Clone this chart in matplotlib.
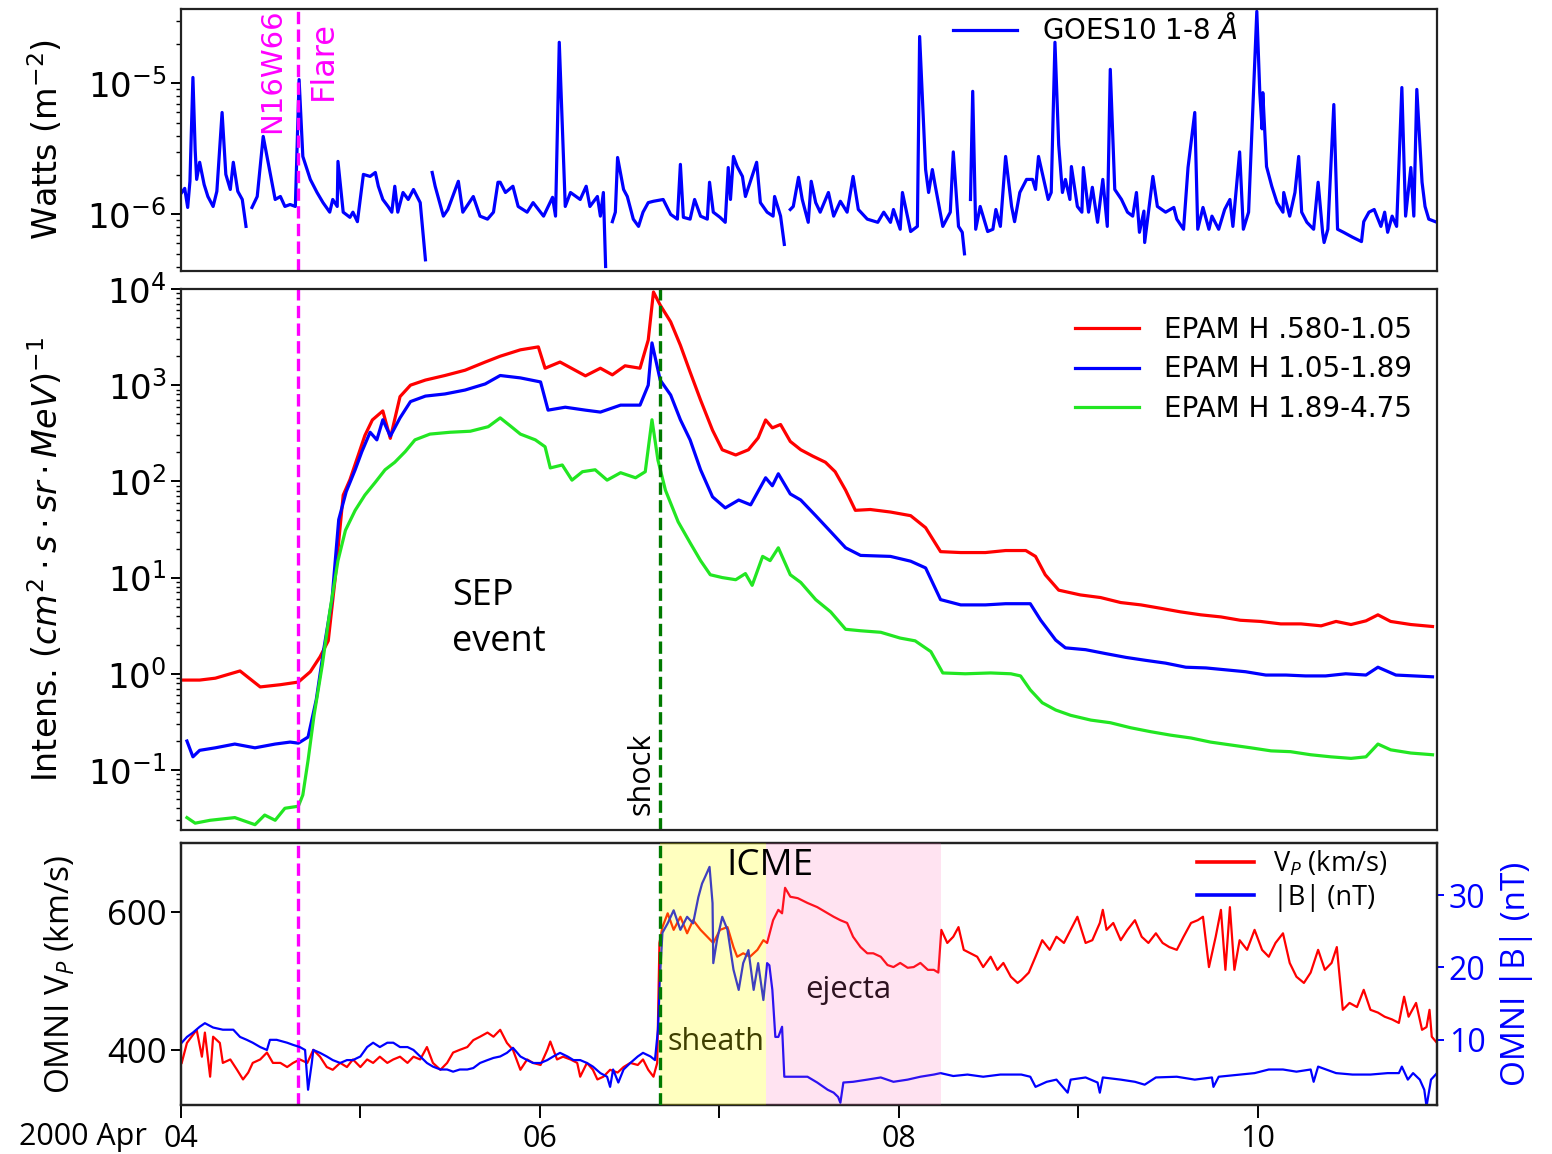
import numpy as np
import matplotlib
matplotlib.use("Agg")
import matplotlib.pyplot as plt
import matplotlib.dates as mdates
from matplotlib.ticker import NullFormatter
from matplotlib.font_manager import FontProperties

plt.rcParams["font.family"] = ["DejaVu Sans"]
plt.rcParams["mathtext.fontset"] = "dejavusans"
plt.rcParams["mathtext.rm"] = "Open Sans"
plt.rcParams["mathtext.it"] = "Open Sans:italic"
plt.rcParams["mathtext.bf"] = "Open Sans:bold"

# ---- event times (hours after 2000-04-04 00:00 UT) ----
t_start = np.datetime64("2000-04-04T00:00")
flare_h = 15.7
shock_h = 64.1
sheath_end_h = 78.2
ejecta_end_h = 101.6

# ---- GOES-10 1-8 A X-ray flux, units of 1e-6 W m^-2 (nan = data gap) ----
goes_hours = [
    0.1, 0.5, 0.9, 1.2, 1.6, 1.9, 2.1, 2.5, 3.1, 3.6, 4.3, 4.8, 5.5, 6.0, 6.6, 7.0, 7.6, 8.2, 8.7, 9.1,
    9.5, 10.2, 11.0, 11.6, 12.6, 13.3, 13.9, 14.6, 15.3, 15.8, 16.3, 17.3, 18.2, 19.0, 19.9, 20.3, 20.9, 21.0,
    21.7, 22.6, 23.0, 23.6, 24.4, 25.3, 26.0, 26.4, 27.0, 27.7, 28.2, 28.6, 29.0, 29.7, 30.4, 31.1, 32.0, 32.7,
    33.2, 33.6, 34.0, 35.1, 35.7, 37.1, 37.7, 39.1, 40.0, 41.0, 41.8, 42.4, 42.7, 43.4, 44.4, 45.1, 46.3, 47.1,
    48.5, 49.7, 50.1, 50.6, 51.4, 52.1, 53.4, 54.2, 54.7, 55.7, 56.1, 56.5, 56.8, 57.2, 57.7, 58.1, 58.4, 59.2,
    59.7, 60.5, 61.2, 61.8, 62.5, 63.2, 64.5, 65.5, 66.4, 66.8, 67.2, 68.1, 68.7, 69.5, 70.4, 70.7, 71.2, 72.1,
    72.8, 73.2, 73.5, 73.9, 74.4, 75.1, 75.5, 77.0, 77.5, 78.4, 79.2, 79.4, 80.2, 80.7, 81.1, 81.5, 81.9, 82.6,
    83.1, 83.9, 84.3, 84.9, 85.5, 86.6, 87.3, 88.2, 89.1, 89.9, 90.6, 91.8, 93.2, 94.0, 94.9, 95.3, 96.2, 96.5,
    97.6, 98.5, 98.8, 99.6, 100.0, 100.5, 100.9, 101.9, 102.9, 103.3, 104.0, 104.5, 104.8, 105.2, 105.6, 105.9,
    106.3, 106.9, 107.9, 108.6, 109.0, 109.6, 110.3, 111.1, 111.5, 112.2, 113.1, 113.9, 114.3, 114.7, 116.0,
    116.4, 116.9, 117.4, 117.9, 118.3, 118.9, 119.1, 119.9, 120.5, 120.7, 121.4, 121.9, 122.6, 123.3, 123.9,
    124.3, 124.9, 125.8, 126.6, 127.3, 127.8, 128.2, 128.8, 128.9, 130.0, 130.6, 131.7, 132.8, 133.2, 134.1,
    134.7, 135.6, 136.0, 136.7, 137.5, 137.9, 138.8, 139.6, 140.3, 140.7, 141.6, 142.1, 142.8, 143.9, 144.3,
    144.6, 144.7, 145.2, 145.9, 146.6, 147.4, 147.5, 148.3, 149.0, 149.5, 149.9, 150.6, 151.5, 152.1, 152.7,
    152.9, 153.4, 154.2, 154.7, 155.5, 156.7, 157.9, 158.2, 158.9, 159.6, 160.5, 161.0, 161.4, 162.0, 162.6,
    163.3, 163.8, 164.5, 164.9, 165.3, 166.0, 166.4, 166.9, 168.0,
]
goes_flux = [
    1.47, 1.58, 1.13, 1.79, 11.1, 3.1, 1.85, 2.5, 1.69, 1.37, 1.15, 1.5, 6.0, 2.02, 1.55, 2.5, 1.5, 1.3, 0.81, np.nan,
    1.13, 1.37, 3.94, 2.6, 1.3, 1.37, 1.15, 1.19, 1.15, 10.7, 2.77, 1.85, 1.47, 1.23, 1.04, 1.3, 1.15, 2.54,
    1.04, 0.95, 1.04, 0.88, 2.02, 1.95, 2.09, 1.64, 1.3, 1.15, 1.04, 1.64, 1.04, 1.47, 1.3, 1.55, 1.23, 0.45,
    np.nan, 2.09, 1.64, 0.97, 1.09, 1.79, 1.04, 1.37, 0.97, 0.92, 1.04, 1.76, 1.76, 1.47, 1.64, 1.15, 1.04, 1.23,
    0.97, 1.35, 0.97, 20.6, 1.15, 1.47, 1.3, 1.64, 1.15, 1.37, 0.97, 1.47, 0.40, np.nan, 0.88, 1.04, 2.72, 1.55,
    1.37, 0.92, 0.81, 1.04, 1.23, 1.26, 1.3, 1.0, 0.92, 2.41, 0.95, 0.92, 1.3, 0.97, 0.92, 1.76, 1.04, 0.95,
    0.87, 2.28, 1.3, 2.77, 2.32, 1.95, 1.37, 2.5, 1.23, 1.04, 0.97, 1.37, 0.97, 0.59, np.nan, 1.09, 1.15, 1.92,
    1.3, 0.87, 1.79, 1.23, 1.04, 1.47, 0.97, 1.26, 1.04, 1.95, 1.09, 0.92, 0.87, 1.04, 0.87, 1.09, 0.77, 1.47,
    0.74, 0.81, 22.8, 2.2, 1.47, 2.2, 1.64, 0.81, 1.04, 3.0, 0.81, 0.73, 0.50, np.nan, 1.3, 8.7,
    0.77, 1.15, 0.74, 0.77, 1.09, 0.81, 2.77, 1.15, 0.88, 1.47, 1.85, 1.85, 1.55, 2.77, 1.3,
    1.47, 20.6, 3.4, 1.47, 1.85, 1.3, 2.32, 1.15, 1.04, 2.28, 1.04, 1.61, 0.87, 1.85, 0.81,
    12.8, 1.55, 1.3, 1.04, 0.97, 1.47, 0.73, 1.06, 0.61, 1.95, 1.15, 1.04, 1.13, 0.92, 0.77,
    2.28, 6.0, 0.77, 1.13, 0.77, 0.97, 0.77, 1.09, 1.3, 0.81, 3.0, 0.77, 1.04, 35.5, 8.5,
    4.5, 8.5, 2.32, 1.64, 1.23, 1.04, 1.47, 0.97, 1.47, 2.77, 1.04, 0.87, 0.77, 1.76, 0.73,
    0.61, 0.77, 6.9, 0.77, 0.73, 0.67, 0.62, 0.88, 1.04, 1.09, 0.81, 1.04, 0.73, 0.97, 0.81,
    9.3, 0.97, 2.28, 0.97, 9.0, 1.76, 1.15, 0.92, 0.87,
]

# ---- ACE/EPAM proton intensities, (cm^2 s sr MeV)^-1 ----
epam1_hours = [
    0.0, 2.5, 4.6, 7.9, 10.6, 13.3, 15.7, 17.3, 18.6, 19.7, 20.6, 21.7, 22.6, 23.7, 24.6, 25.6, 27.0, 28.0,
    29.3, 30.7, 32.7, 35.3, 38.0, 40.7, 42.7, 45.4, 47.8, 48.7, 50.7, 54.1, 56.1, 57.7, 59.4, 61.4, 62.5, 63.2,
    64.1, 65.5, 66.8, 68.1, 69.5, 71.1, 72.4, 74.2, 75.9, 77.2, 78.2, 79.1, 80.2, 81.5, 82.9, 84.5, 86.2, 87.5,
    88.9, 90.2, 92.2, 94.9, 97.6, 99.6, 101.6, 104.3, 107.6, 110.3, 113.0, 114.3, 115.6, 117.4, 120.3, 123.0,
    125.7, 128.4, 131.0, 133.7, 136.4, 139.1, 141.7, 144.4, 147.1, 149.8, 152.5, 154.5, 156.5, 158.5, 160.1,
    161.8, 164.5, 167.4,
]
epam1_flux = [
    0.86, 0.86, 0.90, 1.07, 0.73, 0.77, 0.82, 1.05, 1.5, 2.2, 9.4, 72, 104, 186, 300, 435, 540, 280,
    760, 1000, 1130, 1260, 1430, 1740, 2000, 2330, 2500, 1500, 1740, 1250, 1500, 1280, 1590, 1500, 2950, 9300,
    6800, 4550, 2600, 1370, 700, 340, 213, 188, 213, 283, 435, 360, 390, 260, 213, 183, 158, 126,
    81, 50, 51, 48, 44, 33, 18.6, 18.2, 18.2, 19.1, 19.1, 16.6, 10.7, 7.4, 6.6, 6.2,
    5.5, 5.2, 4.8, 4.4, 4.1, 3.9, 3.6, 3.5, 3.3, 3.3, 3.15, 3.5, 3.25, 3.55, 4.1,
    3.5, 3.25, 3.1,
]
epam2_hours = [
    0.8, 1.6, 2.5, 4.6, 7.2, 9.9, 12.6, 14.6, 15.7, 17.0, 18.1, 19.1, 20.2, 21.1, 22.1, 23.3, 24.2, 25.3,
    26.2, 27.0, 28.0, 29.3, 30.7, 32.7, 35.3, 38.0, 40.7, 42.7, 45.4, 48.1, 49.1, 51.4, 54.1, 56.1, 58.8, 61.4,
    62.5, 63.0, 64.1, 65.5, 66.8, 68.1, 69.5, 71.1, 72.8, 74.6, 76.2, 78.2, 79.1, 79.9, 81.5, 82.9, 84.9, 86.9,
    88.9, 90.9, 94.9, 97.6, 99.6, 101.6, 104.3, 107.6, 110.3, 113.6, 115.0, 117.0, 118.3, 121.0, 123.7, 126.4,
    129.0, 131.7, 134.4, 137.1, 139.7, 142.4, 145.1, 147.8, 150.4, 153.1, 155.8, 158.5, 160.1, 162.5, 167.4,
]
epam2_flux = [
    0.20, 0.137, 0.16, 0.17, 0.186, 0.17, 0.186, 0.195, 0.19, 0.22, 0.54, 1.8, 5.9, 40, 78, 132, 204, 324,
    270, 437, 295, 457, 675, 770, 810, 890, 1030, 1260, 1190, 1080, 550, 590, 550, 525, 620, 620,
    1000, 2750, 1130, 790, 437, 270, 132, 69, 53, 64, 57, 109, 90, 120, 74, 64, 44, 30,
    20.4, 17, 16.6, 14.8, 12.6, 5.9, 5.2, 5.2, 5.35, 5.35, 3.6, 2.24, 1.86, 1.78, 1.62, 1.48,
    1.38, 1.29, 1.17, 1.15, 1.10, 1.05, 0.97, 0.97, 0.95, 0.95, 1.0, 0.97, 1.17, 0.97, 0.93,
]
epam3_hours = [
    0.8, 1.9, 3.9, 7.2, 9.9, 11.2, 12.6, 13.9, 15.7, 16.3, 17.0, 17.8, 18.9, 19.9, 21.0, 22.0, 23.3, 24.6,
    26.0, 27.3, 28.6, 30.0, 31.3, 33.3, 36.0, 38.7, 41.1, 42.7, 44.0, 45.4, 47.4, 48.7, 49.4, 51.0, 52.3, 53.7,
    55.4, 57.0, 58.8, 60.8, 62.1, 63.0, 63.8, 64.8, 66.5, 68.1, 69.5, 70.8, 72.4, 74.2, 75.5, 76.4, 77.8, 78.8,
    79.9, 81.5, 82.9, 84.9, 86.9, 88.9, 90.9, 93.6, 96.2, 98.2, 100.3, 101.9, 104.9, 108.3, 111.0, 112.3,
    113.6, 115.2, 117.0, 119.0, 121.7, 124.3, 127.0, 129.7, 132.4, 135.1, 137.7, 140.4, 143.1, 145.8, 148.4,
    151.1, 153.8, 156.5, 158.5, 160.1, 161.8, 164.5, 167.4,
]
epam3_flux = [
    0.032, 0.028, 0.030, 0.032, 0.027, 0.034, 0.030, 0.040, 0.042, 0.055, 0.126, 0.37, 1.23, 4.4, 15, 31, 50, 72,
    98, 132, 158, 204, 270, 310, 324, 332, 370, 457, 380, 310, 270, 229, 138, 148, 103, 126,
    132, 103, 123, 109, 126, 437, 166, 81, 38, 23, 15, 10.7, 10, 9.5, 11, 8.3, 16.6, 15,
    20.4, 10.7, 8.9, 5.9, 4.4, 2.9, 2.8, 2.7, 2.35, 2.2, 1.7, 1.02, 1.0, 1.02, 1.0, 0.95,
    0.68, 0.50, 0.42, 0.37, 0.33, 0.31, 0.275, 0.25, 0.23, 0.215, 0.195, 0.182, 0.17, 0.158, 0.155,
    0.144, 0.137, 0.132, 0.137, 0.186, 0.162, 0.15, 0.144,
]
epam_labels = ["EPAM H .580-1.05", "EPAM H 1.05-1.89", "EPAM H 1.89-4.75"]

# ---- OMNI solar wind speed (km/s) ----
vp_hours = [
    0.1, 0.8, 2.1, 2.8, 3.2, 3.9, 4.3, 5.2, 5.6, 6.6, 7.5, 8.3, 9.0, 9.6, 10.6, 11.5, 12.3, 13.3, 14.2, 15.0,
    15.9, 16.9, 17.7, 18.6, 19.5, 20.3, 21.3, 22.2, 23.0, 24.0, 24.9, 25.7, 26.6, 27.6, 28.4, 29.3, 30.3, 31.1,
    32.0, 32.9, 33.7, 34.7, 35.6, 36.4, 37.3, 38.3, 39.1, 40.0, 41.0, 41.8, 42.7, 43.6, 44.4, 45.4, 46.3, 47.1,
    48.1, 49.0, 49.4, 50.3, 51.1, 52.1, 53.0, 53.4, 54.3, 55.1, 55.7, 56.5, 57.4, 58.4, 59.2, 60.1, 61.1, 61.8,
    62.5, 63.2, 63.7, 64.0, 64.4, 65.1, 65.9, 66.8, 67.7, 68.5, 69.5, 70.4, 71.2, 72.1, 73.1, 73.9, 74.4, 75.2,
    76.1, 77.1, 77.9, 78.4, 79.2, 79.9, 80.4, 80.8, 81.5, 82.5, 83.8, 85.1, 86.5, 87.3, 88.2, 89.1, 89.9, 90.9,
    91.8, 92.6, 93.6, 94.5, 95.3, 96.2, 97.2, 98.0, 98.9, 99.9, 100.7, 101.3, 101.7, 102.5, 103.3, 104.0, 104.7,
    105.6, 106.5, 107.3, 108.3, 109.2, 110.0, 111.0, 111.9, 112.4, 113.4, 114.3, 115.2, 116.2, 117.1, 118.1,
    119.0, 119.9, 121.0, 121.9, 122.9, 123.3, 123.8, 124.7, 125.7, 126.6, 127.6, 128.5, 129.4, 130.4, 131.3,
    132.2, 133.2, 134.1, 135.1, 136.0, 136.7, 137.5, 138.4, 139.1, 139.7, 140.3, 140.9, 141.6, 142.6, 143.6,
    144.6, 145.5, 146.4, 147.4, 148.3, 149.2, 150.2, 151.1, 152.1, 153.0, 153.9, 154.6, 155.4, 156.3, 157.3,
    158.2, 159.1, 160.1, 161.0, 162.0, 162.9, 163.6, 164.2, 165.2, 166.0, 166.6, 167.0, 167.3, 168.0,
]
vp_speed = [
    381, 410, 429, 390, 425, 361, 419, 410, 381, 386, 371, 357, 367, 381, 386, 396, 381, 381, 375, 381,
    386, 381, 400, 390, 375, 371, 381, 375, 386, 375, 386, 381, 390, 381, 386, 390, 381, 390,
    386, 404, 381, 371, 381, 396, 400, 404, 414, 419, 425, 419, 429, 410, 400, 371, 386, 381,
    378, 400, 412, 386, 390, 386, 381, 361, 381, 371, 357, 361, 371, 367, 375, 381, 378, 386,
    371, 361, 381, 555, 578, 598, 574, 593, 569, 588, 574, 564, 555, 574, 578, 549, 535, 540,
    535, 545, 559, 555, 588, 603, 598, 635, 622, 620, 613, 607, 598, 593, 588, 584, 564, 549,
    540, 540, 535, 523, 520, 526, 519, 520, 526, 516, 516, 512, 574, 555, 564, 578, 545,
    540, 535, 520, 535, 516, 526, 506, 497, 501, 512, 535, 559, 545, 564, 555,
    574, 593, 555, 559, 584, 603, 574, 584, 559, 574, 588, 564, 555, 569, 555,
    549, 545, 564, 584, 588, 593, 520, 564, 603, 516, 607, 516, 559, 545, 574,
    545, 535, 555, 569, 526, 506, 497, 512, 545, 516, 526, 549, 458, 468, 462,
    487, 458, 454, 448, 444, 439, 477, 448, 468, 429, 433, 458, 419, 410,
]

# ---- OMNI magnetic field magnitude (nT) ----
b_hours = [
    0.1, 0.8, 1.6, 2.5, 3.2, 4.3, 5.6, 7.0, 7.9, 8.8, 9.6, 10.6, 11.5, 11.9, 12.8, 14.2, 15.0, 15.9, 16.6, 17.0,
    17.5, 17.7, 18.6, 19.5, 20.3, 21.3, 22.2, 23.0, 24.0, 24.9, 25.7, 26.6, 27.6, 28.4, 29.3, 30.3, 31.1, 32.0,
    32.9, 33.7, 34.7, 35.6, 36.4, 37.3, 38.3, 39.1, 40.0, 41.0, 41.8, 42.7, 43.6, 44.4, 45.4, 46.3, 47.1, 48.1,
    49.0, 49.8, 50.7, 51.7, 52.5, 53.4, 54.3, 55.1, 56.1, 57.0, 57.4, 57.8, 58.5, 59.2, 60.1, 61.1, 61.8, 62.8,
    63.4, 63.8, 64.1, 64.4, 65.1, 65.9, 66.8, 67.7, 68.5, 69.2, 69.7, 70.1, 70.7, 71.1, 71.2, 71.7, 72.4, 73.1,
    73.9, 74.6, 75.2, 75.9, 76.6, 77.2, 77.9, 78.4, 78.7, 79.1, 79.5, 79.9, 80.4, 80.7, 81.9, 83.8, 85.1, 86.5,
    87.3, 87.9, 88.2, 88.6, 89.9, 91.8, 93.6, 95.3, 97.2, 98.9, 100.7, 101.6, 103.3, 105.2, 107.3, 109.6, 112.4,
    113.6, 114.3, 115.8, 117.1, 118.6, 119.0, 121.0, 122.6, 122.9, 123.3, 125.7, 127.6, 128.9, 130.4, 133.2,
    135.6, 137.9, 138.1, 138.8, 141.6, 143.6, 145.5, 147.4, 149.2, 151.1, 151.5, 152.1, 154.5, 156.7, 159.1,
    161.4, 162.9, 163.3, 164.1, 164.8, 165.7, 166.3, 166.6, 167.2, 168.0,
]
b_mag = [
    9.6, 10.4, 11.0, 11.8, 12.3, 11.7, 11.4, 11.4, 10.4, 10.0, 9.6, 9.0, 8.6, 10.0, 10.0, 9.6, 9.3, 9.0, 8.6, 3.1,
    6.8, 8.6, 8.2, 7.7, 7.2, 6.8, 7.2, 7.2, 7.7, 9.0, 9.6, 9.0, 9.6, 9.6, 9.0, 9.0, 8.6, 7.7,
    6.8, 6.3, 5.9, 5.9, 5.6, 5.9, 5.9, 6.1, 6.8, 7.2, 7.5, 7.7, 8.2, 8.9, 7.7, 7.2, 6.8, 6.8,
    7.2, 7.7, 8.2, 7.7, 7.2, 7.2, 6.8, 6.3, 5.4, 4.9, 3.5, 5.9, 4.1, 5.9, 6.8, 7.7, 8.2, 7.7,
    7.2, 11.4, 19.2, 24.8, 26.1, 27.9, 25.2, 27.0, 26.1, 29.7, 31.6, 32.5, 33.9, 28.9, 20.6, 23.8, 27.0, 25.2,
    19.7, 16.9, 20.6, 22.4, 16.9, 20.6, 15.5, 20.6, 20.3, 16.9, 10.4, 10.4, 11.8, 4.9, 4.9, 4.9, 4.1, 3.1,
    2.7, 2.1, 1.3, 4.1, 4.2, 4.5, 4.8, 4.2, 4.5, 4.9, 5.2, 5.4, 5.0, 5.2, 4.9, 5.2, 5.2,
    4.9, 3.5, 4.2, 4.5, 2.7, 4.5, 4.8, 4.1, 2.7, 4.8, 4.5, 4.2, 3.8, 4.8, 4.9,
    4.5, 4.8, 3.5, 4.9, 5.2, 5.4, 5.9, 5.9, 5.6, 5.9, 4.2, 6.3, 5.4, 5.2, 5.2,
    5.4, 5.4, 6.3, 4.5, 5.4, 4.5, 3.1, 0.8, 4.5, 5.4,
]


def to_time(hours):
    return t_start + (np.asarray(hours, dtype=float) * 3600).astype("timedelta64[s]")


def at(h):
    return t_start + np.timedelta64(int(round(h * 3600)), "s")


open_sans = dict(family="Open Sans", math_fontfamily="custom")

fig = plt.figure(figsize=(15.52, 11.54), dpi=100)
fig.patch.set_facecolor("white")
ax_x = fig.add_axes([0.1166, 0.7652, 0.8093, 0.2270])
ax_p = fig.add_axes([0.1166, 0.2808, 0.8093, 0.4688], sharex=ax_x)
ax_v = fig.add_axes([0.1166, 0.0425, 0.8093, 0.2270], sharex=ax_x)
ax_b = ax_v.twinx()

for ax in (ax_x, ax_p, ax_v, ax_b):
    for sp in ax.spines.values():
        sp.set_linewidth(1.6)
        sp.set_color("#222222")
    ax.tick_params(which="major", length=7, width=1.4, labelsize=24.5)
    ax.tick_params(which="minor", length=3.5, width=1.0)

# ---- X-ray panel ----
ax_x.plot(to_time(goes_hours), np.array(goes_flux) * 1e-6, color="#0000ff", lw=2.3,
          label="GOES10 1-8 $\\AA$")
ax_x.set_yscale("log")
ax_x.set_ylim(3.7e-7, 3.7e-5)
ax_x.yaxis.set_minor_formatter(NullFormatter())
ax_x.axvline(at(flare_h), color="#ff00ff", lw=2.4, ls="--")
ax_x.set_ylabel("Watts (m$^{-2}$)", fontsize=24)
ax_x.yaxis.set_label_coords(-0.092, 0.5)
ax_x.legend(loc="upper right", bbox_to_anchor=(0.861, 1.075), frameon=False, fontsize=20,
            handlelength=2.3, handletextpad=0.9)
ax_x.text(0.0725, 0.527, "N16W66", transform=ax_x.transAxes, rotation=90, color="#ff00ff",
          fontsize=21, ha="center", va="bottom")
ax_x.text(0.113, 0.653, "Flare", transform=ax_x.transAxes, rotation=90, color="#ff00ff",
          fontsize=23, ha="center", va="bottom")

# ---- particle panel ----
ax_p.plot(to_time(epam1_hours), epam1_flux, color="#ff0000", lw=2.3, label=epam_labels[0])
ax_p.plot(to_time(epam2_hours), epam2_flux, color="#0000ff", lw=2.3, label=epam_labels[1])
ax_p.plot(to_time(epam3_hours), epam3_flux, color="#22e622", lw=2.3, label=epam_labels[2])
ax_p.set_yscale("log")
ax_p.set_ylim(0.0238, 1.0e4)
ax_p.yaxis.set_minor_formatter(NullFormatter())
ax_p.axvline(at(flare_h), color="#ff00ff", lw=2.4, ls="--")
ax_p.axvline(at(shock_h), color="#007a00", lw=2.4, ls="--")
ax_p.set_ylabel(r"Intens. $(cm^2 \cdot s \cdot sr \cdot MeV)^{-1}$", fontsize=24)
ax_p.yaxis.set_label_coords(-0.092, 0.5)
ax_p.legend(loc="upper right", bbox_to_anchor=(1.0, 0.997), frameon=False, fontsize=20,
            handlelength=2.3, handletextpad=0.9, labelspacing=0.42)
ax_p.text(0.216, 0.39, "SEP\nevent", transform=ax_p.transAxes, fontsize=26, ha="left",
          va="center", linespacing=1.38, **open_sans)
ax_p.text(0.367, 0.028, "shock", transform=ax_p.transAxes, rotation=90, fontsize=22,
          ha="center", va="bottom", **open_sans)

# ---- solar wind panel ----
l_v, = ax_v.plot(to_time(vp_hours), vp_speed, color="#ff0000", lw=1.6, label="V$_P$ (km/s)")
ax_v.set_ylim(320, 700)
ax_v.set_yticks([400, 600])
ax_v.axvline(at(flare_h), color="#ff00ff", lw=2.4, ls="--")
ax_v.set_ylabel("OMNI V$_P$ (km/s)", fontsize=24, **open_sans)
ax_v.yaxis.set_label_coords(-0.082, 0.5)
ax_v.text(0.387, 0.24, "sheath", transform=ax_v.transAxes, fontsize=22, ha="left", va="center",
          **open_sans)
ax_v.text(0.497, 0.439, "ejecta", transform=ax_v.transAxes, fontsize=22.5, ha="left", va="center",
          **open_sans)

l_b, = ax_b.plot(to_time(b_hours), b_mag, color="#0000ff", lw=1.6, label="|B| (nT)")
ax_b.set_ylim(1.0, 37.2)
ax_b.set_yticks([10, 20, 30])
ax_b.tick_params(axis="y", colors="#0000ff", length=5, labelsize=23)
ax_b.spines["right"].set_color("#222222")
ax_b.set_ylabel("OMNI |B| (nT)", color="#0000ff", fontsize=24, **open_sans)
ax_b.yaxis.set_label_coords(1.05, 0.5)

# ICME intervals drawn over the traces, as a translucent overlay
ax_b.axvspan(at(shock_h), at(sheath_end_h), color="yellow", alpha=0.25, lw=0, zorder=5)
ax_b.axvspan(at(sheath_end_h), at(ejecta_end_h), color="hotpink", alpha=0.18, lw=0, zorder=5)
ax_b.axvline(at(shock_h), color="#007a00", lw=2.4, ls="--", zorder=6)
ax_b.text(0.469, 0.912, "ICME", transform=ax_b.transAxes, fontsize=26.5, ha="center", va="center",
          zorder=7, **open_sans)
leg = ax_b.legend(handles=[l_v, l_b], loc="upper right", bbox_to_anchor=(0.98, 1.07), frameon=False,
                  prop=FontProperties(family="Open Sans", size=19.5, math_fontfamily="custom"),
                  handlelength=2.1, handletextpad=0.7, labelspacing=0.2)
for h in leg.legend_handles:
    h.set_linewidth(2.6)

for lab in ax_v.get_yticklabels() + ax_b.get_yticklabels():
    lab.set_fontfamily("Open Sans")
ax_v.tick_params(axis="y", labelsize=25)

# ---- shared time axis ----
ax_v.set_xlim(t_start, t_start + np.timedelta64(7, "D"))
ax_v.xaxis.set_major_locator(mdates.DayLocator(bymonthday=[4, 6, 8, 10]))
ax_v.xaxis.set_minor_locator(mdates.DayLocator(bymonthday=[5, 7, 9]))
ax_v.xaxis.set_major_formatter(mdates.DateFormatter("%d"))
ax_v.tick_params(axis="x", which="major", length=9, labelsize=22, pad=5)
ax_v.tick_params(axis="x", which="minor", length=9, width=1.4)
for lab in ax_v.get_xticklabels():
    lab.set_fontfamily("Open Sans")
ax_v.text(-0.027, -0.123, "2000 Apr", transform=ax_v.transAxes, fontsize=22, ha="right",
          va="center", family="Open Sans")
for ax in (ax_x, ax_p):
    ax.tick_params(axis="x", which="both", length=0, labelbottom=False)

fig.savefig("out.png", dpi=100, facecolor="white")
